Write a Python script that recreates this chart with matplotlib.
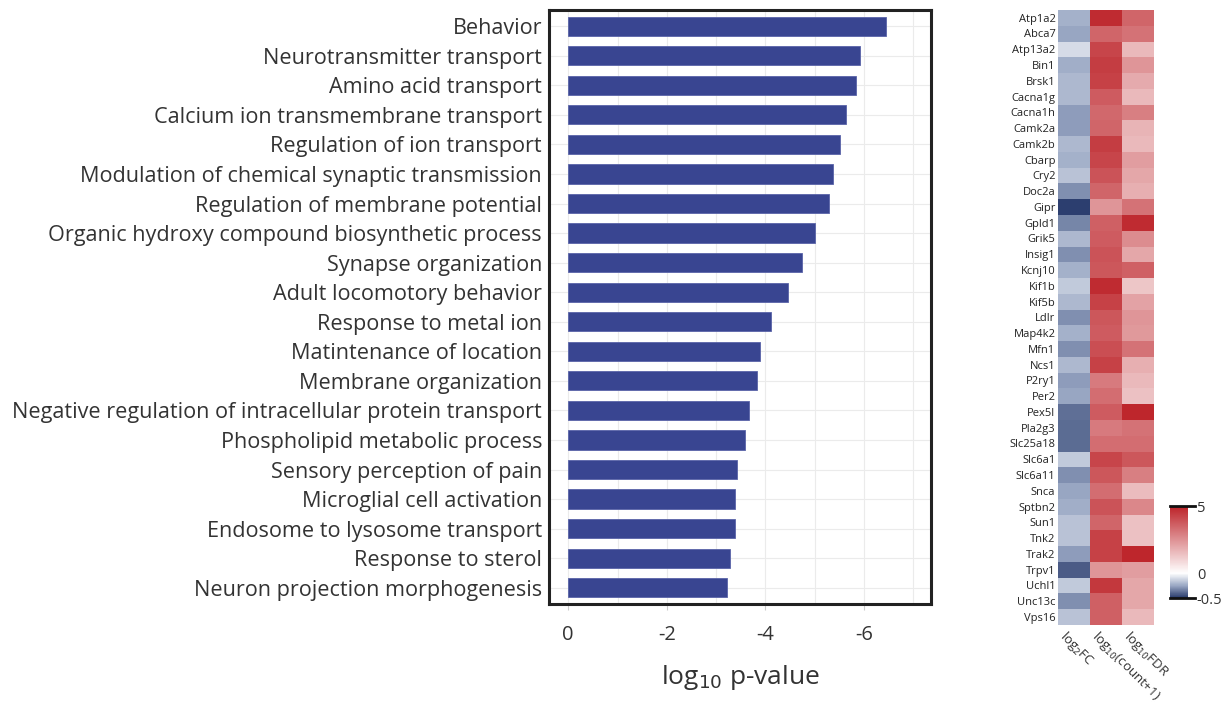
import matplotlib
matplotlib.use('Agg')
import matplotlib.pyplot as plt
import numpy as np
from matplotlib.colors import LinearSegmentedColormap, FuncNorm

plt.rcParams['font.family'] = ['Open Sans', 'DejaVu Sans']

# GO terms and their log10 p-values (enrichment bar chart)
terms = ['Behavior', 'Neurotransmitter transport', 'Amino acid transport',
         'Calcium ion transmembrane transport', 'Regulation of ion transport',
         'Modulation of chemical synaptic transmission', 'Regulation of membrane potential',
         'Organic hydroxy compound biosynthetic process', 'Synapse organization',
         'Adult locomotory behavior', 'Response to metal ion', 'Matintenance of location',
         'Membrane organization', 'Negative regulation of intracellular protein transport',
         'Phospholipid metabolic process', 'Sensory perception of pain',
         'Microglial cell activation', 'Endosome to lysosome transport',
         'Response to sterol', 'Neuron projection morphogenesis']
log10_p = [-6.45, -5.92, -5.84, -5.64, -5.52, -5.38, -5.29, -5.01, -4.75, -4.46,
           -4.12, -3.89, -3.83, -3.67, -3.59, -3.43, -3.39, -3.39, -3.29, -3.23]

# heatmap genes and columns
genes = ['Atp1a2', 'Abca7', 'Atp13a2', 'Bin1', 'Brsk1', 'Cacna1g', 'Cacna1h', 'Camk2a',
         'Camk2b', 'Cbarp', 'Cry2', 'Doc2a', 'Gipr', 'Gpld1', 'Grik5', 'Insig1', 'Kcnj10',
         'Kif1b', 'Kif5b', 'Ldlr', 'Map4k2', 'Mfn1', 'Ncs1', 'P2ry1', 'Per2', 'Pex5l',
         'Pla2g3', 'Slc25a18', 'Slc6a1', 'Slc6a11', 'Snca', 'Sptbn2', 'Sun1', 'Tnk2',
         'Trak2', 'Trpv1', 'Uchl1', 'Unc13c', 'Vps16']
col_labels = [r'log$_2$FC', r'log$_{10}$(count+1)', r'log$_{10}$FDR']
log2fc = [-0.22, -0.25, -0.10, -0.23, -0.20, -0.20, -0.27, -0.27, -0.20, -0.22,
          -0.17, -0.30, -0.48, -0.32, -0.20, -0.30, -0.22, -0.15, -0.20, -0.30,
          -0.22, -0.30, -0.20, -0.27, -0.25, -0.37, -0.38, -0.38, -0.15, -0.30,
          -0.25, -0.23, -0.17, -0.17, -0.27, -0.42, -0.15, -0.30, -0.17]
log10_count = [4.8, 3.5, 4.2, 4.4, 4.3, 3.7, 3.4, 3.5, 4.4, 4.2,
               3.9, 3.5, 2.4, 3.6, 3.7, 3.9, 3.8, 4.8, 4.3, 3.8,
               3.7, 4.0, 4.3, 3.0, 3.3, 3.7, 3.0, 3.3, 4.2, 3.8,
               3.3, 3.9, 3.5, 4.3, 4.3, 2.4, 4.5, 3.6, 3.6]
log10_fdr = [3.5, 3.2, 1.6, 2.4, 1.9, 1.6, 2.9, 1.7, 1.6, 2.2,
             2.0, 1.8, 3.2, 4.8, 2.6, 2.0, 3.6, 1.3, 2.1, 2.4,
             2.3, 3.2, 1.8, 1.6, 1.4, 4.9, 3.2, 3.3, 3.8, 2.9,
             1.5, 2.7, 1.4, 1.4, 4.9, 2.2, 2.0, 2.0, 1.6]

fig = plt.figure(figsize=(12.29, 7.02), dpi=100)

# ---- bar chart ----
ax = fig.add_axes([0.4467, 0.1396, 0.3108, 0.8462])
y = np.arange(len(terms))
ax.barh(y, log10_p, height=0.65, color='#394591', edgecolor='#5a64a8', linewidth=0.6, zorder=3)
ax.set_yticks(y)
ax.set_yticklabels(terms, fontsize=15.6, color='#333333')
ax.set_ylim(len(terms) - 0.45, -0.55)
ax.set_xlim(0.39, -7.36)
ax.set_xticks([0, -2, -4, -6])
ax.set_xticklabels(['0', '-2', '-4', '-6'], fontsize=14.5, color='#333333')
ax.set_xticks([-1, -3, -5, -7], minor=True)
ax.grid(True, which='both', color='#ebebeb', linewidth=0.8, zorder=0)
ax.tick_params(axis='y', length=0, pad=5)
ax.tick_params(axis='x', which='major', length=4, color='#cccccc', pad=11)
ax.tick_params(axis='x', which='minor', length=0)
for s in ax.spines.values():
    s.set_linewidth(2.2)
    s.set_color('#222222')
ax.set_xlabel(r'log$_{10}$ p-value', fontsize=19, color='#333333', labelpad=13)

# ---- heatmap ----
vals = np.column_stack([log2fc, log10_count, log10_fdr])
cmap = LinearSegmentedColormap.from_list(
    'bwr_custom', [(0.0, '#26386a'), (0.135, '#9aa8c4'), (0.27, '#ffffff'),
                   (1.0, '#bd2329')])
norm = FuncNorm((lambda v: np.interp(v, [-0.5, 0, 5], [0, 0.27, 1]),
                 lambda u: np.interp(u, [0, 0.27, 1], [-0.5, 0, 5])),
                vmin=-0.5, vmax=5)

hx = fig.add_axes([0.861, 0.110, 0.078, 0.876])
im = hx.imshow(vals, cmap=cmap, norm=norm, aspect='auto', interpolation='nearest')
hx.set_yticks(np.arange(len(genes)))
hx.set_yticklabels(genes, fontsize=8, color='#222222')
hx.set_xticks(np.arange(3) - 0.2)
hx.set_xticklabels(col_labels, rotation=-45, ha='left', va='top',
                   rotation_mode='anchor', fontsize=9.5, color='#333333')
hx.tick_params(length=0, pad=2)
for s in hx.spines.values():
    s.set_visible(False)

# ---- colorbar ----
cax = fig.add_axes([0.952, 0.148, 0.015, 0.131])
cb = fig.colorbar(im, cax=cax, ticks=[-0.5, 0, 5])
cb.outline.set_visible(False)
cb.ax.set_yticklabels(['-0.5', '0', '5'], fontsize=10.5, color='#333333')
cb.ax.tick_params(length=0, pad=6)
for v in [5, -0.5]:
    cax.axhline(v, xmin=0, xmax=1.35, color='#111111', linewidth=2, clip_on=False)

fig.savefig('out.png', dpi=100)
